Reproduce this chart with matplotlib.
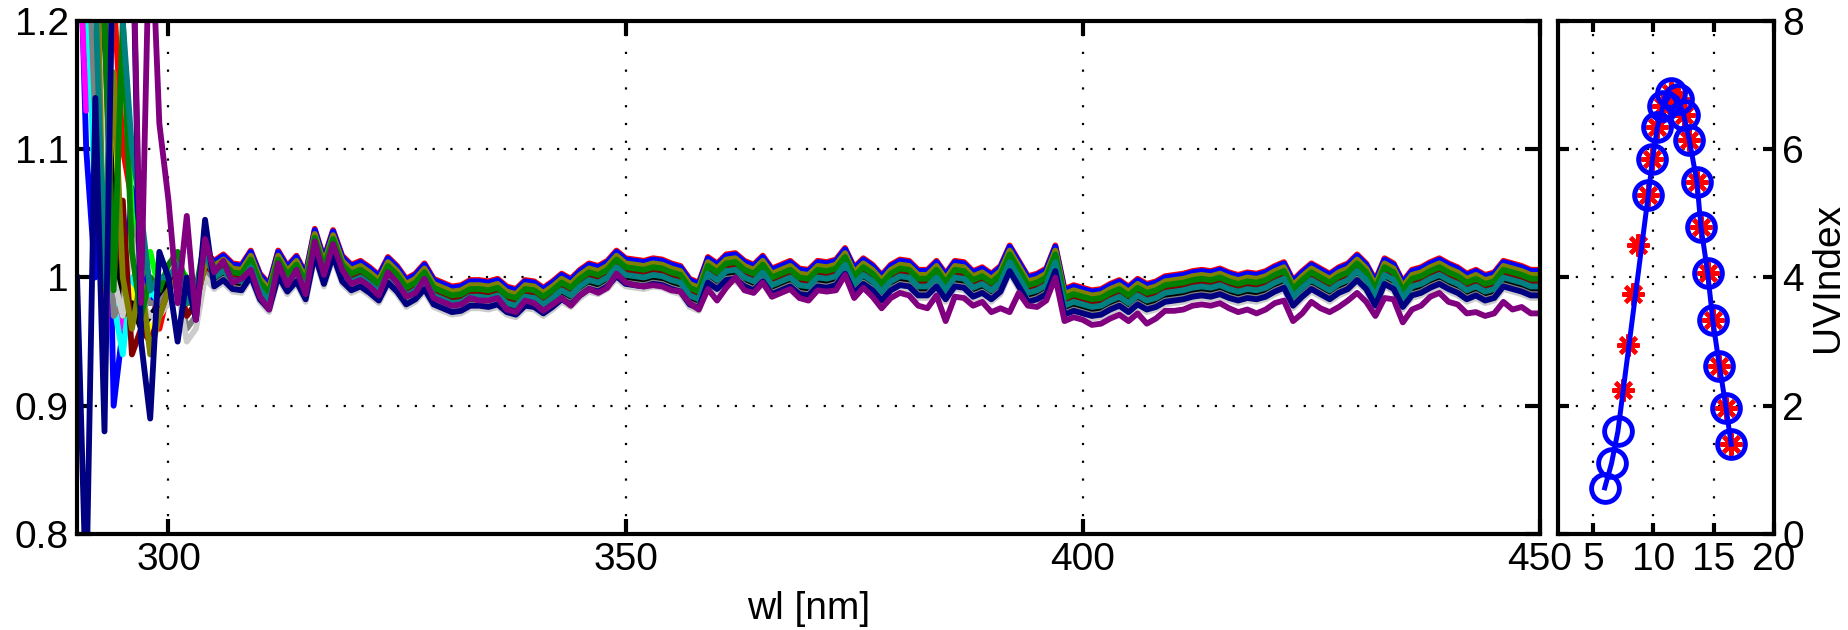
import numpy as np
import matplotlib
matplotlib.use('Agg')
import matplotlib.pyplot as plt

plt.rcParams['font.family'] = ['Liberation Sans', 'DejaVu Sans']
plt.rcParams['font.size'] = 28

# wavelength grid [nm]
wl = np.arange(290, 451)

# common level of the bundle (teal curve), 305..450 nm
pack = [1.000, 1.005, 0.998, 0.997, 1.008, 0.990, 0.982, 1.008, 0.996, 1.004,
        0.990, 1.025, 1.002, 1.024, 1.004, 0.997, 1.000, 0.995, 0.989, 1.003,
        0.996, 0.986, 0.990, 0.998, 0.986, 0.983, 0.980, 0.981, 0.985, 0.985,
        0.984, 0.986, 0.980, 0.978, 0.985, 0.984, 0.979, 0.984, 0.990, 0.986,
        0.993, 0.998, 0.996, 1.000, 1.008, 1.002, 1.001, 1.000, 1.002, 1.001,
        0.998, 0.996, 0.986, 0.983, 1.003, 0.998, 1.005, 1.006, 1.000, 0.997,
        1.004, 0.994, 0.997, 1.000, 0.994, 0.993, 1.000, 0.999, 1.001, 1.010,
        0.995, 1.002, 0.997, 0.989, 0.997, 1.001, 1.000, 0.993, 0.993, 1.000,
        0.990, 1.000, 0.999, 0.992, 0.995, 0.990, 0.996, 1.012, 1.000, 0.988,
        0.990, 0.994, 1.012, 0.978, 0.981, 0.979, 0.977, 0.978, 0.982, 0.985,
        0.980, 0.986, 0.982, 0.984, 0.988, 0.989, 0.990, 0.992, 0.993, 0.992,
        0.994, 0.991, 0.989, 0.991, 0.990, 0.992, 0.996, 0.999, 0.985, 0.992,
        0.998, 0.994, 0.990, 0.995, 0.998, 1.005, 0.998, 0.985, 1.002, 0.998,
        0.984, 0.993, 0.995, 0.999, 1.002, 0.998, 0.995, 0.990, 0.993, 0.989,
        0.991, 1.000, 0.998, 0.996, 0.993, 0.993]

# purple (last) curve, 305..450 nm
purple_main = [1.004, 1.013, 0.996, 0.999, 1.006, 0.985, 0.975, 1.011, 0.994, 1.006,
               0.987, 1.028, 1.002, 1.026, 1.006, 0.995, 0.998, 0.993, 0.986, 1.004,
               0.996, 0.985, 0.988, 0.999, 0.984, 0.981, 0.978, 0.979, 0.984, 0.982,
               0.982, 0.984, 0.975, 0.973, 0.982, 0.980, 0.974, 0.979, 0.984, 0.978,
               0.986, 0.991, 0.988, 0.992, 1.003, 0.996, 0.994, 0.993, 0.994, 0.993,
               0.990, 0.989, 0.980, 0.975, 0.991, 0.982, 0.992, 1.000, 0.990, 0.988,
               0.996, 0.985, 0.988, 0.991, 0.984, 0.982, 0.990, 0.989, 0.990, 1.002,
               0.984, 0.992, 0.985, 0.976, 0.984, 0.988, 0.986, 0.978, 0.976, 0.986,
               0.966, 0.985, 0.984, 0.978, 0.981, 0.973, 0.976, 0.973, 0.988, 0.978,
               0.977, 0.982, 1.000, 0.966, 0.969, 0.967, 0.963, 0.964, 0.968, 0.971,
               0.966, 0.972, 0.964, 0.968, 0.974, 0.974, 0.975, 0.978, 0.979, 0.978,
               0.980, 0.976, 0.973, 0.975, 0.972, 0.975, 0.980, 0.982, 0.966, 0.972,
               0.981, 0.976, 0.973, 0.977, 0.982, 0.988, 0.981, 0.970, 0.984, 0.983,
               0.965, 0.975, 0.978, 0.985, 0.988, 0.981, 0.979, 0.972, 0.973, 0.970,
               0.972, 0.981, 0.975, 0.977, 0.972, 0.972]

# noisy start of each curve, 290..304 nm
red_start = [1.25, 1.30, 1.24, 1.28, 1.22, 1.10, 1.06, 0.96, 1.00, 0.96, 0.99, 1.01, 0.99, 0.98, 1.02]
blue_start = [1.35, 1.10, 1.00, 1.25, 0.90, 0.96, 1.07, 1.02, 0.98, 1.00, 1.00, 1.01, 0.99, 0.99, 1.02]
lime_start = [1.30, 1.18, 1.30, 1.25, 1.30, 1.20, 1.05, 1.00, 1.02, 0.99, 1.00, 1.01, 1.00, 0.99, 1.02]
magenta_start = [1.30, 1.13, 1.20, 0.92, 1.10, 0.96, 1.00, 0.97, 1.00, 0.99, 1.00, 1.01, 0.99, 0.99, 1.02]
cyan_start = [1.30, 1.25, 1.05, 1.06, 0.98, 0.94, 1.00, 0.97, 0.99, 0.98, 1.00, 1.00, 0.99, 0.98, 1.02]
yellow_start = [1.30, 1.30, 1.30, 1.20, 1.10, 1.00, 0.99, 0.97, 0.96, 0.97, 1.00, 1.01, 0.99, 0.99, 1.02]
black_start = [1.30, 1.25, 1.30, 1.20, 1.05, 0.97, 0.98, 0.96, 0.97, 0.98, 1.00, 1.00, 0.99, 0.98, 1.02]
gray_start = [1.30, 1.30, 1.12, 1.25, 0.97, 0.98, 1.04, 0.99, 0.98, 0.98, 0.99, 1.00, 0.96, 0.97, 1.01]
lgray_start = [1.30, 1.30, 1.20, 1.15, 1.00, 0.97, 1.03, 0.98, 0.97, 0.97, 0.98, 0.99, 0.95, 0.96, 1.00]
dred_start = [1.30, 1.30, 1.25, 1.20, 1.00, 1.06, 0.94, 0.96, 0.95, 0.97, 0.99, 1.00, 0.97, 0.98, 1.01]
olive_start = [1.30, 1.30, 1.30, 0.99, 1.16, 1.00, 0.96, 1.00, 0.94, 0.97, 0.99, 1.00, 0.98, 0.98, 1.01]
dgreen_start = [1.30, 1.30, 1.25, 1.20, 0.99, 1.20, 1.02, 0.97, 1.00, 0.99, 1.01, 1.02, 0.99, 0.99, 1.03]
teal_start = [1.30, 1.30, 1.22, 0.995, 1.25, 1.20, 1.10, 1.05, 0.99, 1.00, 1.00, 1.01, 0.98, 0.99, 1.02]
navy_start = [1.00, 0.75, 1.14, 0.88, 1.30, 1.30, 1.30, 0.95, 0.89, 1.02, 1.00, 0.95, 1.00, 0.967, 1.045]
purple_start = [1.30, 1.30, 1.30, 1.30, 1.30, 1.30, 1.30, 0.98, 1.30, 1.12, 1.06, 0.98, 1.048, 0.967, 1.03]

# offset of each curve from the common level
red_shift, blue_shift, lime_shift = 0.013, 0.012, 0.008
magenta_shift, cyan_shift, yellow_shift = 0.004, -0.004, 0.0
black_shift, gray_shift, lgray_shift = -0.002, -0.006, -0.009
dred_shift, olive_shift, dgreen_shift = 0.003, 0.009, 0.006
teal_shift, navy_shift = 0.0, -0.007

# UV index vs time
t_circ = [5.97, 6.53, 7.06, 9.58, 9.92, 10.33, 10.81, 11.44, 12.0, 12.5, 12.97,
          13.61, 13.94, 14.5, 14.92, 15.47, 16.03, 16.44]
uv_circ = [0.72, 1.10, 1.60, 5.29, 5.84, 6.34, 6.68, 6.87, 6.79, 6.54, 6.15,
           5.49, 4.79, 4.07, 3.33, 2.62, 1.96, 1.40]
t_star = [7.5, 7.92, 8.31, 8.75, 9.58, 9.92, 10.33, 10.81, 11.44, 12.0, 12.5,
          12.97, 13.61, 13.94, 14.5, 14.92, 15.47, 16.03, 16.44]
uv_star = [2.25, 2.95, 3.75, 4.50, 5.29, 5.84, 6.34, 6.68, 6.87, 6.79, 6.54,
           6.15, 5.49, 4.79, 4.07, 3.33, 2.62, 1.96, 1.40]

curves = [
    ((1, 0, 0), red_start, red_shift),
    ((0, 0, 1), blue_start, blue_shift),
    ((0, 1, 0), lime_start, lime_shift),
    ((1, 0, 1), magenta_start, magenta_shift),
    ((0, 1, 1), cyan_start, cyan_shift),
    ((1, 1, 0), yellow_start, yellow_shift),
    ((0, 0, 0), black_start, black_shift),
    ((0.5, 0.5, 0.5), gray_start, gray_shift),
    ((0.8, 0.8, 0.8), lgray_start, lgray_shift),
    ((0.5, 0, 0), dred_start, dred_shift),
    ((0.5, 0.5, 0), olive_start, olive_shift),
    ((0, 0.5, 0), dgreen_start, dgreen_shift),
    ((0, 0.5, 0.5), teal_start, teal_shift),
    ((0, 0, 0.5), navy_start, navy_shift),
]

fig = plt.figure(figsize=(18.48, 6.3), dpi=100)
ax = fig.add_axes([0.0417, 0.1524, 0.7916, 0.8143])
ax2 = fig.add_axes([0.8431, 0.1524, 0.1169, 0.8143])

for col, start, sh in curves:
    y = np.concatenate([start, np.array(pack) + sh])
    ax.plot(wl, y, color=col, lw=4.2)
ax.plot(wl, np.concatenate([purple_start, purple_main]), color=(0.5, 0, 0.5), lw=4.2)

ax.set_xlim(290, 450)
ax.set_ylim(0.8, 1.2)
ax.set_xticks([300, 350, 400, 450])
ax.set_yticks([0.8, 0.9, 1.0, 1.1, 1.2])
ax.set_yticklabels(['0.8', '0.9', '1', '1.1', '1.2'])
ax.set_xlabel('wl [nm]')
ax.xaxis.set_label_coords(0.5, -0.112)
ax.tick_params(direction='in', length=11, width=3, top=True, right=True, pad=6)

ax2.plot(t_star, uv_star, ls='none', marker=(8, 2, 0), ms=16, mew=3, color='red')
ax2.plot(t_circ, uv_circ, color='blue', lw=3.6, marker='o', ms=20, mew=3.5, mfc='none')
ax2.set_xlim(2.1, 20)
ax2.set_ylim(0, 8)
ax2.set_xticks([5, 10, 15, 20])
ax2.set_yticks([0, 2, 4, 6, 8])
ax2.yaxis.tick_right()
ax2.yaxis.set_label_position('right')
ax2.set_ylabel('UVIndex', labelpad=4)
ax2.tick_params(direction='in', length=8, width=3, top=True, left=True, right=True, pad=6)

for a in (ax, ax2):
    a.grid(True, color='black', ls=(0, (1, 7)), lw=1.6)
    for s in a.spines.values():
        s.set_linewidth(3)

fig.savefig('out.png', dpi=100)
